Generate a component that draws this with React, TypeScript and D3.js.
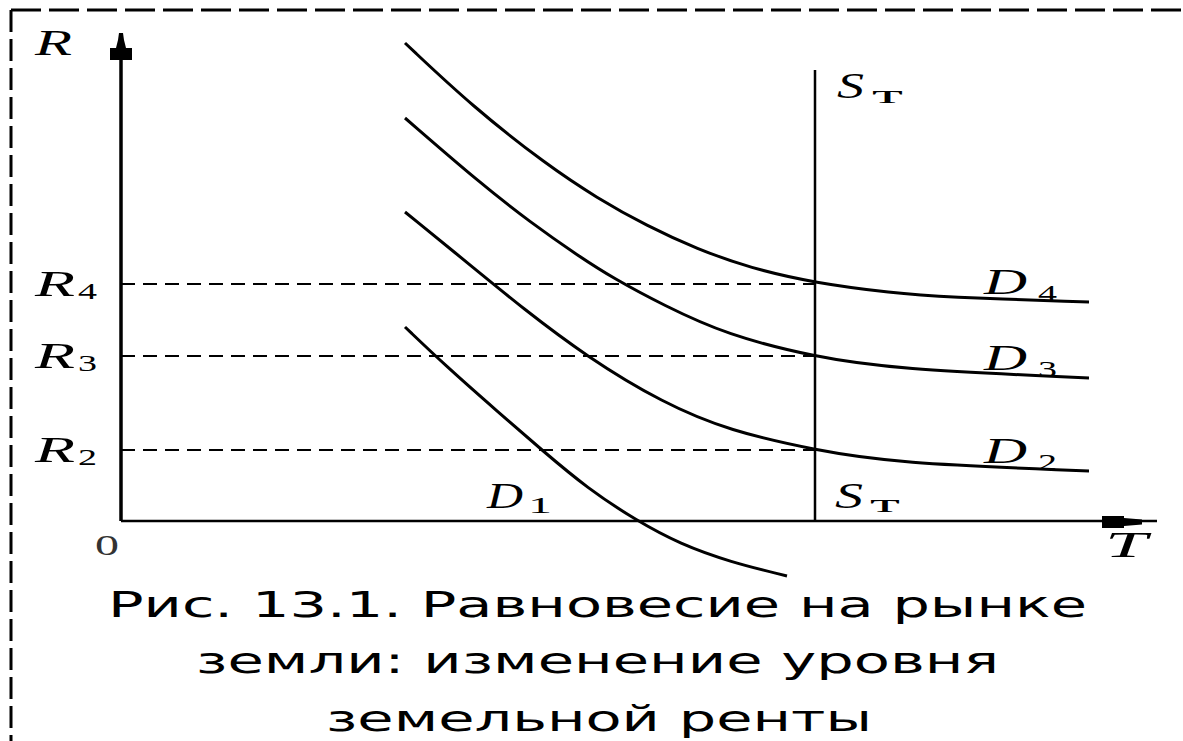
import React from "react";
import * as d3 from "d3";

// Land quantity T (horizontal), rent R (vertical) — values in chart units
const d1Curve: [number, number][] = [
  [28.4, 19.4], [32.6, 15.4], [37.6, 11.0], [42.2, 7.0], [46.6, 3.3],
  [51.6, 0.0], [55.9, -2.3], [60.9, -4.1], [66.6, -5.5],
];
const d2Curve: [number, number][] = [
  [28.4, 30.9], [35.9, 24.8], [39.9, 21.5], [46.6, 16.4], [54.2, 11.8],
  [60.9, 9.0], [69.4, 7.1], [77.2, 5.8], [96.8, 5.0],
];
const d3Curve: [number, number][] = [
  [28.4, 40.3], [35.9, 33.8], [40.9, 29.9], [45.9, 26.4], [49.2, 24.3],
  [54.2, 21.6], [60.6, 18.6], [69.4, 16.4], [77.2, 15.2], [96.8, 14.3],
];
const d4Curve: [number, number][] = [
  [28.4, 47.8], [35.2, 41.4], [42.6, 35.6], [47.6, 32.3], [52.6, 29.5],
  [57.6, 27.2], [62.9, 25.3], [69.4, 23.8], [77.2, 22.8], [82.1, 22.4], [96.8, 21.9],
];
const supplyT = 69.4; // fixed land supply S_T
const rentLevels = [23.7, 16.5, 7.1]; // R4, R3, R2
const rentSubs = ["4", "3", "2"];
const curveSubs = ["4", "3", "2"];
const captionLines = [
  "Рис. 13.1. Равновесие на рынке",
  "земли: изменение уровня",
  "земельной ренты",
];

const W = 1183;
const H = 741;

const x = d3.scaleLinear().domain([0, 100]).range([121, 1121]);
const y = d3.scaleLinear().domain([0, 50]).range([521, 21]);

const line = d3
  .line<[number, number]>()
  .x((d) => x(d[0]))
  .y((d) => y(d[1]))
  .curve(d3.curveBasis);

const serif = "'Liberation Serif', 'Times New Roman', serif";
const sans = "'DejaVu Sans', Verdana, sans-serif";

function T(props: {
  x: number;
  y: number;
  w: number;
  size: number;
  text: string;
  italic?: boolean;
  family?: string;
  fill?: string;
}) {
  return (
    <text
      x={props.x}
      y={props.y}
      fontSize={props.size}
      fontFamily={props.family ?? serif}
      fontStyle={props.italic ? "italic" : "normal"}
      textLength={props.w}
      lengthAdjust="spacingAndGlyphs"
      fill={props.fill ?? "#000"}
    >
      {props.text}
    </text>
  );
}

export default function App() {
  const curves = [d4Curve, d3Curve, d2Curve];
  const x0 = x(0);
  const yAxisTop = 46.1;
  const xAxisEnd = 103.6;
  return (
    <svg
      width={W}
      height={H}
      style={{ position: "absolute", left: 0, top: 0, background: "#fff" }}
    >
      <rect x={0} y={0} width={W} height={H} fill="#fff" />
      {/* dashed frame */}
      <line x1={11} y1={10} x2={W} y2={10} stroke="#000" strokeWidth={3} strokeDasharray="30 8" />
      <line x1={11} y1={10} x2={11} y2={H} stroke="#000" strokeWidth={3} strokeDasharray="22 7" />

      {/* rent dashed levels */}
      {rentLevels.map((r, i) => (
        <line
          key={"rl" + i}
          x1={x0}
          x2={x(supplyT)}
          y1={y(r)}
          y2={y(r)}
          stroke="#000"
          strokeWidth={2}
          strokeDasharray="14 8"
        />
      ))}

      {/* axes */}
      <line x1={x0} y1={y(0)} x2={x0} y2={y(yAxisTop)} stroke="#000" strokeWidth={3.5} />
      <path
        d={`M${x0 - 2},33 L${x0 + 2},33 L${x0 + 3},40 L${x0 + 5},48 L${x0 + 11},48 L${x0 + 11},60 L${x0 - 11},60 L${x0 - 11},48 L${x0 - 5},48 L${x0 - 3},40 Z`}
        fill="#000"
      />
      <line x1={x0} y1={y(0)} x2={x(xAxisEnd)} y2={y(0)} stroke="#000" strokeWidth={2.6} />
      <path
        d={`M1102,516 L1124,516 L1124,518 L1142,519.5 L1142,524.5 L1124,526 L1124,528 L1102,528 Z`}
        fill="#000"
      />

      {/* supply line */}
      <line x1={x(supplyT)} x2={x(supplyT)} y1={y(0)} y2={y(45.1)} stroke="#000" strokeWidth={2.5} />

      {/* demand curves */}
      {curves.map((c, i) => (
        <path key={"c" + i} d={line(c) ?? ""} fill="none" stroke="#000" strokeWidth={3} />
      ))}
      <path d={line(d1Curve) ?? ""} fill="none" stroke="#000" strokeWidth={3} />

      {/* axis labels */}
      <T x={35} y={55} w={37} size={36} text="R" italic />
      <T x={1105} y={557} w={42} size={36} text="T" italic />
      <T x={95} y={555} w={24} size={30} text="0" fill="#333" />

      {rentLevels.map((r, i) => (
        <g key={"rlab" + i}>
          <T x={35} y={y(r) + 12} w={40} size={36} text="R" italic />
          <T x={78} y={y(r) + 15} w={19} size={24} text={rentSubs[i]} />
        </g>
      ))}

      {curves.map((c, i) => {
        const end = c[c.length - 1];
        return (
          <g key={"dlab" + i}>
            <T x={984} y={y(end[1]) - 8} w={43} size={36} text="D" italic />
            <T x={1038} y={y(end[1]) - 1} w={19} size={24} text={curveSubs[i]} />
          </g>
        );
      })}
      <T x={487} y={508} w={36} size={36} text="D" italic />
      <T x={528} y={513} w={24} size={24} text="1" />

      <T x={837} y={98} w={27} size={36} text="S" italic />
      <T x={872} y={103} w={31} size={26} text="т" />
      <T x={835} y={508} w={28} size={36} text="S" italic />
      <T x={870} y={512} w={30} size={26} text="т" />

      {/* caption */}
      <T x={108} y={617} w={979} size={36} text={captionLines[0]} family={sans} />
      <T x={196} y={673} w={803} size={36} text={captionLines[1]} family={sans} />
      <T x={326} y={731} w={546} size={36} text={captionLines[2]} family={sans} />
    </svg>
  );
}
